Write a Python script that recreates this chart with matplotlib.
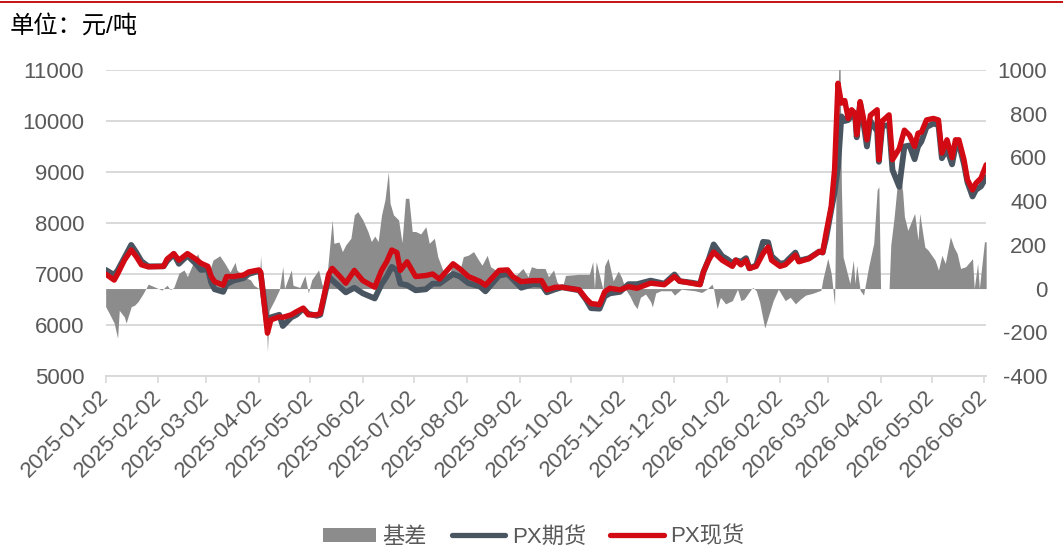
import matplotlib
matplotlib.use('Agg')
import matplotlib.pyplot as plt
from matplotlib.lines import Line2D
from matplotlib.patches import Patch
import pandas as pd

## chart data
price_dates = [
    '2025-01-02', '2025-01-07', '2025-01-09', '2025-01-13', '2025-01-17', '2025-01-20', '2025-01-23', '2025-01-27',
    '2025-02-05', '2025-02-07', '2025-02-11', '2025-02-14', '2025-02-19', '2025-02-24', '2025-02-27', '2025-03-03',
    '2025-03-05', '2025-03-07', '2025-03-12', '2025-03-14', '2025-03-18', '2025-03-24', '2025-03-27', '2025-04-02',
    '2025-04-03', '2025-04-07', '2025-04-09', '2025-04-14', '2025-04-16', '2025-04-21', '2025-04-24', '2025-04-28',
    '2025-05-01', '2025-05-06', '2025-05-08', '2025-05-13', '2025-05-15', '2025-05-19', '2025-05-23', '2025-05-28',
    '2025-06-02', '2025-06-09', '2025-06-13', '2025-06-16', '2025-06-19', '2025-06-22', '2025-06-24', '2025-06-28',
    '2025-07-03', '2025-07-09', '2025-07-13', '2025-07-17', '2025-07-25', '2025-07-29', '2025-08-03', '2025-08-10',
    '2025-08-13', '2025-08-21', '2025-08-26', '2025-08-29', '2025-09-03', '2025-09-10', '2025-09-15', '2025-09-18',
    '2025-09-23', '2025-09-27', '2025-10-07', '2025-10-11', '2025-10-14', '2025-10-19', '2025-10-22', '2025-10-25',
    '2025-10-31', '2025-11-05', '2025-11-10', '2025-11-18', '2025-11-26', '2025-12-02', '2025-12-05', '2025-12-12',
    '2025-12-17', '2025-12-19', '2025-12-22', '2025-12-25', '2025-12-30', '2026-01-02', '2026-01-05', '2026-01-07',
    '2026-01-10', '2026-01-13', '2026-01-15', '2026-01-19', '2026-01-23', '2026-01-26', '2026-01-28', '2026-02-02',
    '2026-02-05', '2026-02-07', '2026-02-11', '2026-02-13', '2026-02-19', '2026-02-25', '2026-02-27', '2026-03-01',
    '2026-03-04', '2026-03-06', '2026-03-08', '2026-03-10', '2026-03-12', '2026-03-14', '2026-03-16', '2026-03-18',
    '2026-03-19', '2026-03-21', '2026-03-23', '2026-03-25', '2026-03-27', '2026-03-31', '2026-04-01', '2026-04-03',
    '2026-04-07', '2026-04-09', '2026-04-13', '2026-04-16', '2026-04-19', '2026-04-22', '2026-04-24', '2026-04-26',
    '2026-04-29', '2026-05-03', '2026-05-06', '2026-05-08', '2026-05-11', '2026-05-14', '2026-05-16', '2026-05-18',
    '2026-05-21', '2026-05-23', '2026-05-26', '2026-05-28', '2026-05-31', '2026-06-03',
]
px_spot = [
    7000, 6880, 7000, 7270, 7470, 7340, 7180, 7140,
    7150, 7290, 7400, 7270, 7400, 7290, 7210, 7150,
    6950, 6850, 6780, 6950, 6950, 6980, 7040, 7080,
    7040, 5840, 6100, 6160, 6150, 6200, 6260, 6330,
    6200, 6200, 6230, 7000, 7110, 6970, 6820, 7070,
    6870, 6740, 7070, 7240, 7470, 7420, 7070, 7240,
    6950, 6970, 7000, 6900, 7200, 7100, 6950, 6850,
    6780, 7070, 7080, 6950, 6850, 6870, 6870, 6690,
    6740, 6740, 6690, 6520, 6420, 6400, 6650, 6720,
    6690, 6750, 6720, 6820, 6790, 6950, 6860, 6820,
    6790, 7040, 7270, 7430, 7270, 7210, 7150, 7270,
    7180, 7270, 7110, 7150, 7400, 7530, 7270, 7150,
    7180, 7240, 7370, 7240, 7300, 7440, 7420, 7800,
    8320, 9040, 10740, 10350, 10400, 10050, 10220, 10150,
    9730, 10380, 10050, 9630, 10110, 10220, 9240, 10000,
    10120, 9240, 9460, 9820, 9720, 9500, 9760, 9780,
    10020, 10050, 10020, 9370, 9630, 9280, 9630, 9630,
    9240, 8850, 8650, 8780, 8880, 9140,
]
px_futures = [
    7080, 6980, 7070, 7320, 7570, 7420, 7250, 7150,
    7150, 7250, 7390, 7200, 7360, 7200, 7080, 7090,
    6830, 6700, 6650, 6800, 6870, 6920, 7000, 7060,
    7010, 5960, 6150, 6200, 5980, 6150, 6200, 6320,
    6220, 6180, 6200, 6950, 6880, 6760, 6640, 6730,
    6620, 6520, 6800, 6950, 7140, 7070, 6810, 6780,
    6680, 6700, 6810, 6810, 7000, 6950, 6820, 6750,
    6660, 6970, 7000, 6900, 6730, 6800, 6790, 6640,
    6700, 6740, 6680, 6500, 6330, 6320, 6560, 6620,
    6650, 6800, 6800, 6870, 6810, 6990, 6860, 6830,
    6800, 7040, 7280, 7580, 7350, 7290, 7210, 7270,
    7240, 7310, 7110, 7170, 7630, 7620, 7350, 7200,
    7220, 7290, 7420, 7260, 7310, 7440, 7420, 7700,
    8250, 8600, 9100, 10090, 10000, 10020, 10100, 10150,
    9680, 10350, 9950, 9500, 10000, 9800, 9200, 9900,
    9920, 9040, 8710, 9500, 9520, 9250, 9500, 9600,
    9880, 9950, 9920, 9270, 9450, 9150, 9500, 9550,
    9150, 8800, 8520, 8650, 8720, 8900,
]

basis_dates = [
    '2025-01-02', '2025-01-04', '2025-01-07', '2025-01-09', '2025-01-10', '2025-01-13', '2025-01-14', '2025-01-17',
    '2025-01-19', '2025-01-21', '2025-01-24', '2025-01-27', '2025-01-30', '2025-02-04', '2025-02-07', '2025-02-09',
    '2025-02-11', '2025-02-14', '2025-02-17', '2025-02-19', '2025-02-22', '2025-02-25', '2025-02-27', '2025-03-03',
    '2025-03-06', '2025-03-10', '2025-03-13', '2025-03-16', '2025-03-19', '2025-03-20', '2025-03-24', '2025-03-28',
    '2025-03-30', '2025-04-02', '2025-04-03', '2025-04-04', '2025-04-06', '2025-04-07', '2025-04-08', '2025-04-11',
    '2025-04-14', '2025-04-16', '2025-04-17', '2025-04-21', '2025-04-22', '2025-04-26', '2025-04-29', '2025-05-01',
    '2025-05-03', '2025-05-07', '2025-05-09', '2025-05-11', '2025-05-15', '2025-05-16', '2025-05-19', '2025-05-21',
    '2025-05-23', '2025-05-26', '2025-05-28', '2025-05-30', '2025-06-02', '2025-06-05', '2025-06-07', '2025-06-09',
    '2025-06-11', '2025-06-13', '2025-06-15', '2025-06-17', '2025-06-18', '2025-06-20', '2025-06-23', '2025-06-25',
    '2025-06-27', '2025-06-29', '2025-07-01', '2025-07-03', '2025-07-06', '2025-07-09', '2025-07-11', '2025-07-14',
    '2025-07-16', '2025-07-19', '2025-07-22', '2025-07-25', '2025-07-29', '2025-07-31', '2025-08-03', '2025-08-06',
    '2025-08-09', '2025-08-11', '2025-08-14', '2025-08-16', '2025-08-19', '2025-08-22', '2025-08-25', '2025-08-27',
    '2025-08-31', '2025-09-04', '2025-09-07', '2025-09-09', '2025-09-12', '2025-09-15', '2025-09-17', '2025-09-19',
    '2025-09-22', '2025-09-24', '2025-09-27', '2025-09-29', '2025-10-07', '2025-10-13', '2025-10-15', '2025-10-16',
    '2025-10-17', '2025-10-21', '2025-10-22', '2025-10-24', '2025-10-27', '2025-10-30', '2025-11-01', '2025-11-03',
    '2025-11-06', '2025-11-08', '2025-11-10', '2025-11-12', '2025-11-15', '2025-11-18', '2025-11-19', '2025-11-21',
    '2025-11-24', '2025-11-30', '2025-12-02', '2025-12-06', '2025-12-14', '2025-12-18', '2025-12-21', '2025-12-24',
    '2025-12-25', '2025-12-27', '2025-12-29', '2026-01-01', '2026-01-05', '2026-01-08', '2026-01-10', '2026-01-12',
    '2026-01-16', '2026-01-17', '2026-01-19', '2026-01-21', '2026-01-24', '2026-01-26', '2026-01-29', '2026-02-01',
    '2026-02-05', '2026-02-08', '2026-02-11', '2026-02-14', '2026-02-17', '2026-02-21', '2026-02-26', '2026-02-27',
    '2026-03-02', '2026-03-04', '2026-03-05', '2026-03-06', '2026-03-07', '2026-03-09', '2026-03-10', '2026-03-11',
    '2026-03-13', '2026-03-15', '2026-03-17', '2026-03-18', '2026-03-19', '2026-03-21', '2026-03-23', '2026-03-26',
    '2026-03-29', '2026-03-31', '2026-04-01', '2026-04-02', '2026-04-07', '2026-04-08', '2026-04-10', '2026-04-12',
    '2026-04-14', '2026-04-15', '2026-04-16', '2026-04-18', '2026-04-22', '2026-04-24', '2026-04-25', '2026-04-28',
    '2026-04-30', '2026-05-04', '2026-05-06', '2026-05-08', '2026-05-10', '2026-05-13', '2026-05-15', '2026-05-17',
    '2026-05-19', '2026-05-22', '2026-05-26', '2026-05-27', '2026-05-29', '2026-05-30', '2026-06-02', '2026-06-03',
]
basis = [
    -83, -112, -158, -227, -100, -130, -158, -83,
    -76, -60, -23, 20, 10, -7, 15, -5,
    5, 70, 85, 55, 110, 160, 110, 55,
    130, 150, 115, 75, 120, 85, 55, 40,
    15, 0, 150, -7, -68, -290, -100, -55,
    -5, 100, 0, 85, 15, 5, 60, -20,
    40, 85, 20, -20, 314, 207, 213, 169,
    200, 230, 337, 352, 314, 261, 215, 240,
    215, 337, 406, 534, 390, 337, 314, 210,
    413, 413, 261, 261, 250, 283, 207, 230,
    146, 84, 46, 115, 84, 146, 153, 169,
    130, 107, 152, 100, 84, 92, 61, 54,
    61, 92, 54, 100, 92, 92, 92, 54,
    85, 30, 0, 60, 65, 65, 123, 0,
    123, -5, 105, 138, 35, 80, 50, 0,
    -37, -70, -92, -40, -25, -60, -84, -20,
    -10, -10, -30, -3, -10, -18, -3, 20,
    -3, -92, -40, -70, -55, -3, -55, -48,
    -3, 5, -10, -62, -181, -130, -55, -3,
    -55, -40, -70, -48, -30, -22, -8, 38,
    138, 70, 0, -76, 527, 1200, 465, 145,
    84, 23, 130, 23, 107, -8, -30, 100,
    207, 451, 466, 0, 0, 199, 329, 490,
    500, 440, 330, 266, 344, 221, 344, 190,
    175, 130, 84, 152, 115, 237, 190, 160,
    92, 100, 137, 0, 115, 0, 214, 214,
]

tick_dates = ['2025-01-02', '2025-02-02', '2025-03-02', '2025-04-02', '2025-05-02', '2025-06-02',
              '2025-07-02', '2025-08-02', '2025-09-02', '2025-10-02', '2025-11-02', '2025-12-02',
              '2026-01-02', '2026-02-02', '2026-03-02', '2026-04-02', '2026-05-02', '2026-06-02']
left_ticks = [5000, 6000, 7000, 8000, 9000, 10000, 11000]
right_ticks = [-400, -200, 0, 200, 400, 600, 800, 1000]

## style
plt.rcParams['font.family'] = ['Liberation Sans', 'Noto Sans CJK SC']
TXT = '#595959'
GRID = '#D9D9D9'
C_BASIS = '#8C8C8C'
C_FUT = '#4A5562'
C_SPOT = '#D20A14'

pdates = pd.to_datetime(price_dates)
bdates = pd.to_datetime(basis_dates)
tdates = pd.to_datetime(tick_dates)

fig = plt.figure(figsize=(10.63, 5.48), dpi=100)
rect = [0.0994, 0.3139, 0.8283, 0.5584]

ax = fig.add_axes(rect)
ax.set_ylim(5000, 11000)
ax.set_yticks(left_ticks)
ax.set_yticklabels([str(v) for v in left_ticks])
ax.set_xlim(pd.Timestamp('2025-01-02'), pd.Timestamp('2026-06-03'))
ax.set_xticks(tdates)
ax.set_xticklabels(tick_dates, rotation=45, ha='right', va='center', rotation_mode='anchor')
ax.grid(axis='y', color=GRID, lw=1.4)
ax.set_axisbelow(True)
for s in ['left', 'right', 'top']:
    ax.spines[s].set_visible(False)
ax.spines['bottom'].set_color(GRID)
ax.spines['bottom'].set_linewidth(1.4)
ax.tick_params(axis='y', length=0, labelsize=16, labelcolor=TXT, pad=15.5)
ax.tick_params(axis='x', direction='out', length=5, width=1.2, color=GRID, labelsize=16, labelcolor=TXT, pad=8)

## basis on the right axis
ax2 = ax.twinx()
ax2.fill_between(bdates, basis, 0, color=C_BASIS, lw=0)
ax2.set_ylim(-400, 1000)
ax2.set_yticks(right_ticks)
ax2.set_yticklabels([str(v) for v in right_ticks])
for s in ax2.spines.values():
    s.set_visible(False)
ax2.tick_params(axis='y', length=0, labelsize=16, labelcolor=TXT, pad=44)
for lab in ax2.get_yticklabels():
    lab.set_horizontalalignment('right')

## price lines on top
ax3 = fig.add_axes(rect, sharex=ax, sharey=ax)
ax3.patch.set_visible(False)
ax3.axis('off')
ax3.plot(pdates, px_futures, color=C_FUT, lw=4.2, solid_joinstyle='round', solid_capstyle='round')
ax3.plot(pdates, px_spot, color=C_SPOT, lw=3.9, solid_joinstyle='round', solid_capstyle='round')

fig.text(0.009, 0.953, '单位：元/吨', fontsize=17.5, color='black', va='center', ha='left')
fig.add_artist(Line2D([0, 1], [0.9955, 0.9955], color='#C00000', lw=1.3, transform=fig.transFigure))

handles = [Patch(facecolor=C_BASIS, edgecolor='none'),
           Line2D([], [], color=C_FUT, lw=3.8, solid_capstyle='round'),
           Line2D([], [], color=C_SPOT, lw=3.8, solid_capstyle='round')]
fig.legend(handles, ['基差', 'PX期货', 'PX现货'], loc='center', bbox_to_anchor=(0.502, 0.02),
           ncol=3, frameon=False, fontsize=16, labelcolor=TXT, handlelength=2.4, handleheight=0.6,
           handletextpad=0.3, columnspacing=1.1)

fig.savefig('out.png', dpi=100)
